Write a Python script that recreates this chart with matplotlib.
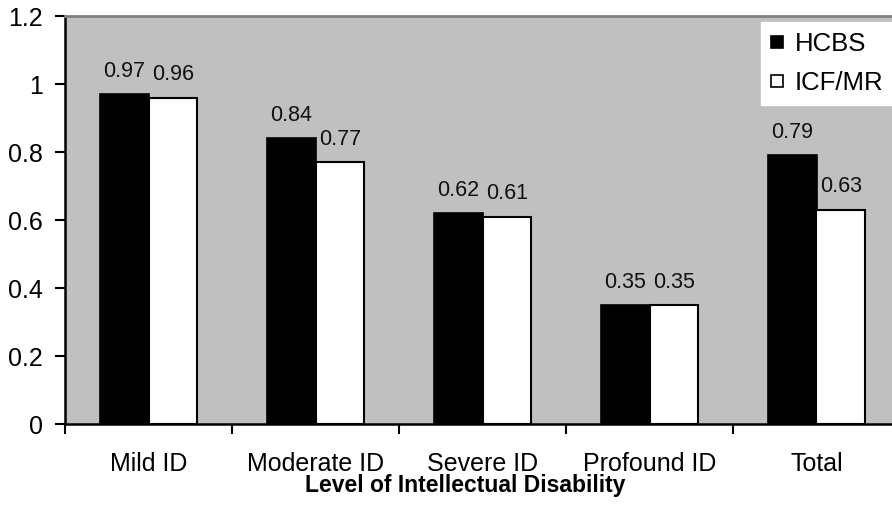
import numpy as np
import matplotlib
matplotlib.use('Agg')
import matplotlib.pyplot as plt
from matplotlib.lines import Line2D

plt.rcParams['font.family'] = ['Liberation Sans', 'DejaVu Sans']

# data
categories = ['Mild ID', 'Moderate ID', 'Severe ID', 'Profound ID', 'Total']
hcbs = [0.97, 0.84, 0.62, 0.35, 0.79]
icf_mr = [0.96, 0.77, 0.61, 0.35, 0.63]
y_ticks = [0, 0.2, 0.4, 0.6, 0.8, 1, 1.2]
y_labels = ['0', '0.2', '0.4', '0.6', '0.8', '1', '1.2']

W, H = 892, 508
fig = plt.figure(figsize=(W / 100, H / 100), dpi=100)
fig.patch.set_facecolor('white')

# plot area runs a little past the right edge of the picture, like the original
ax = fig.add_axes([65 / W, (H - 424) / H, 835 / W, 408 / H])
ax.set_facecolor('#c0c0c0')

x = np.arange(len(categories))
bw = 0.29
b1 = ax.bar(x - bw / 2, hcbs, bw, color='black', edgecolor='black', linewidth=1.2, zorder=2)
b2 = ax.bar(x + bw / 2, icf_mr, bw, color='white', edgecolor='black', linewidth=1.5, zorder=2)

for bars, vals in [(b1, hcbs), (b2, icf_mr)]:
    for rect, v in zip(bars, vals):
        ax.annotate(f'{v:g}', (rect.get_x() + rect.get_width() / 2, v),
                    xytext=(0, 12.5), textcoords='offset points',
                    ha='center', va='baseline', fontsize=15.5, color='#111111')

ax.set_xlim(-0.5, len(categories) - 0.5)
ax.set_ylim(0, 1.2)
ax.set_yticks(y_ticks)
ax.set_yticklabels(y_labels, fontsize=18)
ax.tick_params(axis='y', direction='out', length=7, width=1.5, pad=9)

ax.set_xticks(x)
ax.set_xticklabels(categories, fontsize=18)
ax.set_xticks(np.arange(len(categories) + 1) - 0.5, minor=True)
ax.tick_params(axis='x', which='major', length=0, pad=20)
ax.tick_params(axis='x', which='minor', direction='out', length=7, width=1.5)

for side in ['left', 'bottom']:
    ax.spines[side].set_color('black')
    ax.spines[side].set_linewidth(1.8)
ax.spines['top'].set_color('#808080')
ax.spines['top'].set_linewidth(2)
ax.spines['right'].set_visible(False)

ax.set_xlabel('Level of Intellectual Disability', fontsize=16.5, fontweight='bold', va='baseline')
ax.xaxis.set_label_coords(0.479, -68 / 408)

# square legend keys like the original
handles = [
    Line2D([], [], ls='none', marker='s', ms=8, mfc='black', mec='black', mew=1.2),
    Line2D([], [], ls='none', marker='s', ms=8, mfc='white', mec='black', mew=1.2),
]
leg = ax.legend(handles, ['HCBS', 'ICF/MR'], loc='upper left',
                bbox_to_anchor=(761 / W, (H - 22) / H),
                bbox_transform=fig.transFigure, fontsize=18.5,
                handlelength=0.43, handletextpad=0.47,
                labelspacing=0.58, borderpad=0.4, borderaxespad=0,
                frameon=True, fancybox=False, framealpha=1)
leg.get_frame().set_facecolor('white')
leg.get_frame().set_edgecolor('white')

fig.savefig('out.png', dpi=100)
